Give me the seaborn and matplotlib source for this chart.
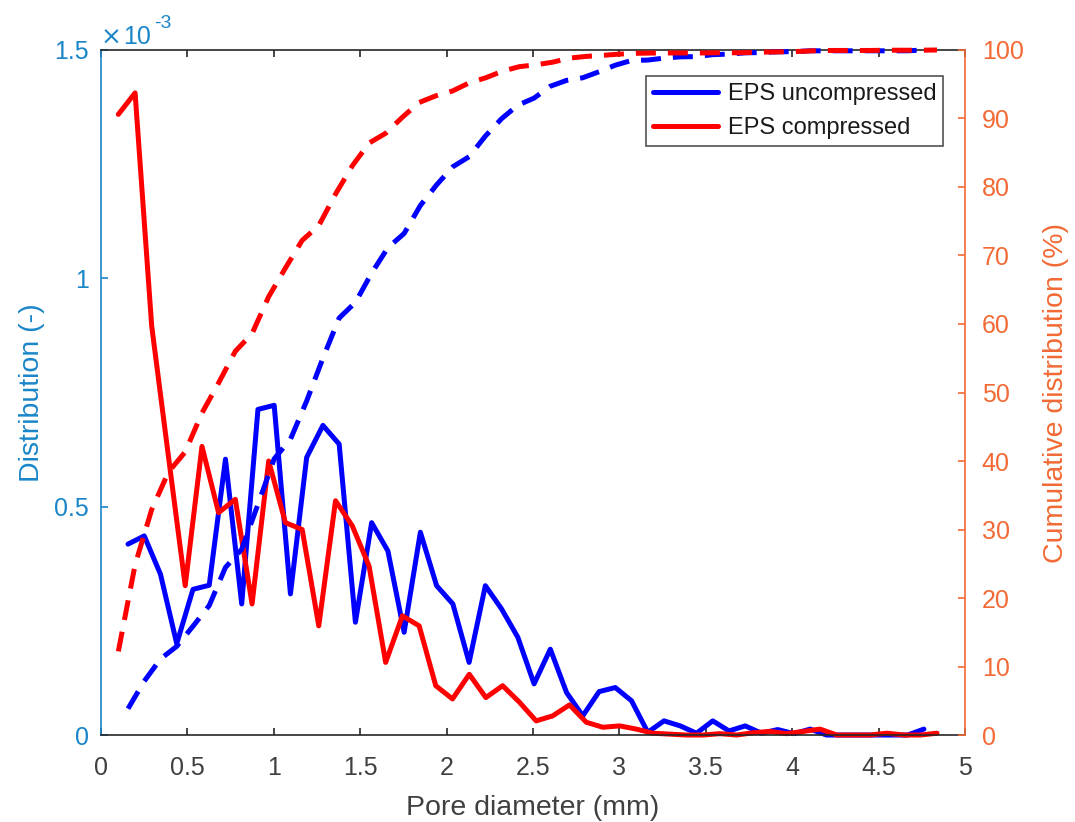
import numpy as np
import matplotlib
matplotlib.use("Agg")
import matplotlib.pyplot as plt
import seaborn as sns
from matplotlib.ticker import FuncFormatter, MultipleLocator
from matplotlib.lines import Line2D

# Pore diameter bin centres (mm)
diam_uncompressed = [
    0.156, 0.250, 0.344, 0.438, 0.532, 0.626, 0.720, 0.814, 0.908, 1.002,
    1.096, 1.190, 1.284, 1.378, 1.472, 1.566, 1.660, 1.754, 1.848, 1.942,
    2.036, 2.130, 2.224, 2.318, 2.412, 2.506, 2.600, 2.694, 2.788, 2.882,
    2.976, 3.070, 3.164, 3.258, 3.352, 3.446, 3.540, 3.634, 3.728, 3.822,
    3.916, 4.010, 4.104, 4.198, 4.292, 4.386, 4.480, 4.574, 4.668, 4.762,
]
diam_compressed = [
    0.100, 0.197, 0.293, 0.390, 0.487, 0.584, 0.680, 0.777, 0.874, 0.970,
    1.067, 1.164, 1.260, 1.357, 1.454, 1.551, 1.647, 1.744, 1.841, 1.937,
    2.034, 2.131, 2.227, 2.324, 2.421, 2.518, 2.614, 2.711, 2.808, 2.904,
    3.001, 3.098, 3.194, 3.291, 3.388, 3.485, 3.581, 3.678, 3.775, 3.871,
    3.968, 4.065, 4.161, 4.258, 4.355, 4.452, 4.548, 4.645, 4.742, 4.838,
]

# Pore size distribution (x 1e-3)
dist_uncompressed = [
    0.418, 0.436, 0.352, 0.200, 0.319, 0.328, 0.604, 0.287, 0.713, 0.722,
    0.309, 0.608, 0.678, 0.637, 0.247, 0.465, 0.403, 0.225, 0.444, 0.327,
    0.287, 0.159, 0.327, 0.276, 0.214, 0.112, 0.188, 0.093, 0.042, 0.095,
    0.104, 0.075, 0.006, 0.031, 0.020, 0.004, 0.031, 0.009, 0.020, 0.004,
    0.012, 0.003, 0.013, 0.000, 0.000, 0.000, 0.000, 0.000, 0.000, 0.013,
]
dist_compressed = [
    1.359, 1.406, 0.896, 0.610, 0.327, 0.632, 0.487, 0.516, 0.287, 0.600,
    0.465, 0.450, 0.239, 0.513, 0.458, 0.370, 0.159, 0.261, 0.239, 0.108,
    0.079, 0.133, 0.082, 0.108, 0.072, 0.031, 0.042, 0.066, 0.028, 0.017,
    0.020, 0.013, 0.004, 0.002, 0.000, 0.000, 0.003, 0.000, 0.005, 0.008,
    0.003, 0.008, 0.013, 0.000, 0.000, 0.000, 0.004, 0.000, 0.000, 0.004,
]

series_names = ["EPS uncompressed", "EPS compressed"]
series_colors = ["#0000ff", "#ff0000"]

LEFT_COLOR = "#1a86c8"
RIGHT_COLOR = "#f26a35"
GRID_GRAY = "#262626"

sns.set_theme(style="white")
plt.rcParams["font.family"] = ["Liberation Sans", "DejaVu Sans"]

fig = plt.figure(figsize=(10.75, 8.22), dpi=100)
ax = fig.add_axes([0.094, 0.1058, 0.8037, 0.8334])
ax2 = ax.twinx()

lw = 3.6
series = [
    (diam_uncompressed, dist_uncompressed),
    (diam_compressed, dist_compressed),
]
handles = []
for (d, dist), name, col in zip(series, series_names, series_colors):
    d = np.asarray(d)
    dist = np.asarray(dist)
    sns.lineplot(x=d, y=dist * 1e-3, ax=ax, color=col, lw=lw,
                 sort=False, clip_on=False)
    # cumulative share of the distribution, in percent
    cum = np.cumsum(dist) / dist.sum() * 100.0
    sns.lineplot(x=d, y=cum, ax=ax2, color=col, lw=lw, sort=False,
                 clip_on=False, linestyle=(0, (4.0, 2.4)))
    handles.append(Line2D([], [], color=col, lw=lw, label=name))

# x axis
ax.set_xlim(0, 5)
ax.xaxis.set_major_locator(MultipleLocator(0.5))
ax.xaxis.set_major_formatter(FuncFormatter(lambda v, p: f"{v:g}"))
ax.set_xlabel("Pore diameter (mm)", fontsize=20.5, color="#404040", labelpad=11)

# left axis (values shown in units of 1e-3)
ax.set_ylim(0, 1.5e-3)
ax.yaxis.set_major_locator(MultipleLocator(0.5e-3))
ax.yaxis.set_major_formatter(FuncFormatter(lambda v, p: f"{v * 1e3:g}"))
ax.set_ylabel("Distribution (-)", fontsize=20.5, color=LEFT_COLOR, labelpad=6)
ax.text(0.0, 1.008, "\u00d7", transform=ax.transAxes, fontsize=18,
        family="DejaVu Sans", color=LEFT_COLOR, ha="left", va="baseline")
ax.text(0.025, 1.008, "10", transform=ax.transAxes, fontsize=18,
        color=LEFT_COLOR, ha="left", va="baseline")
ax.text(0.061, 1.032, "-3", transform=ax.transAxes, fontsize=14,
        color=LEFT_COLOR, ha="left", va="baseline")

# right axis
ax2.set_ylim(0, 100)
ax2.yaxis.set_major_locator(MultipleLocator(10))
ax2.set_ylabel("Cumulative distribution (%)", fontsize=20.5,
               color=RIGHT_COLOR, labelpad=14)

ax.tick_params(axis="x", which="major", direction="in", length=5, width=1.2,
               color=GRID_GRAY, labelcolor="#404040", labelsize=18, pad=15,
               top=True, bottom=True)
ax.tick_params(axis="y", which="major", direction="in", length=5, width=1.2,
               color=LEFT_COLOR, labelcolor=LEFT_COLOR, labelsize=18, pad=9,
               left=True, right=False)
ax2.tick_params(axis="y", which="major", direction="in", length=5, width=1.2,
                color=RIGHT_COLOR, labelcolor=RIGHT_COLOR, labelsize=18, pad=12,
                right=True, left=False)

for a in (ax, ax2):
    for s in a.spines.values():
        s.set_linewidth(1.2)
ax.spines["left"].set_color(LEFT_COLOR)
ax.spines["right"].set_visible(False)
ax.spines["top"].set_color(GRID_GRAY)
ax.spines["bottom"].set_color(GRID_GRAY)
ax2.spines["left"].set_visible(False)
ax2.spines["right"].set_color(RIGHT_COLOR)
ax2.spines["top"].set_visible(False)
ax2.spines["bottom"].set_visible(False)

leg = ax2.legend(handles=handles, loc="upper right", fontsize=17,
                 bbox_to_anchor=(0.975, 0.962), frameon=True, fancybox=False,
                 edgecolor=GRID_GRAY, handlelength=2.75, handletextpad=0.4,
                 borderpad=0.3, labelspacing=0.5, borderaxespad=0.0)
leg.get_frame().set_linewidth(1.2)
for t in leg.get_texts():
    t.set_color("#1a1a1a")

fig.savefig("out.png", dpi=100)
